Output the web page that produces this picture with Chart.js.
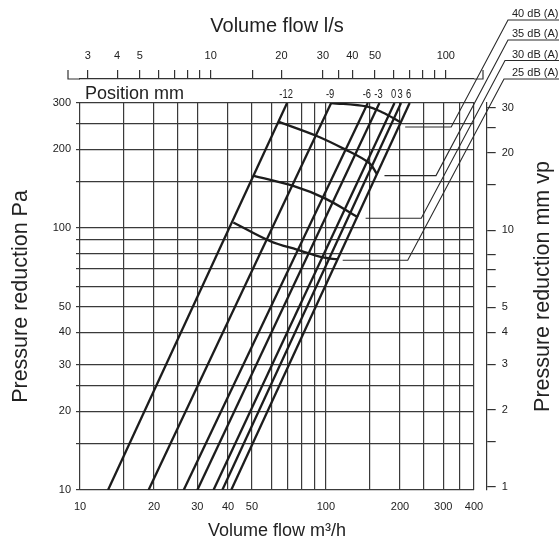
<!DOCTYPE html>
<html><head><meta charset="utf-8">
<script src="https://cdn.jsdelivr.net/npm/chart.js@4.4.0/dist/chart.umd.min.js"></script>
<style>html,body{margin:0;padding:0;background:#fff;}#wrap{width:559px;height:546px;}</style>
</head><body><div id="wrap"><canvas id="c" width="559" height="546"></canvas></div>
<script>
// ---- data ----
const positions = ['-12', '-9', '-6', '-3', '0', '3', '6'];
const flowAt10Pa = [13.0, 19.0, 26.4, 30.0, 34.9, 37.9, 41.2];     // m3/h at 10 Pa
const flowAt300Pa = [69.5, 105, 148, 165, 190, 202, 219];          // m3/h at 300 Pa
const pressureEnds = [10, 300];

const soundLevels = ['40 dB (A)', '35 dB (A)', '30 dB (A)', '25 dB (A)'];
const arc40Flow = [105, 146, 170, 200];
const arc40Pa = [300, 291, 276, 254];
const arc35Flow = [64.5, 91.3, 119, 150, 161];
const arc35Pa = [254, 225, 200, 177, 161];
const arc30Flow = [51, 73.6, 98.6, 135];
const arc30Pa = [158, 144.7, 130, 110];
const arc25Flow = [42, 59.4, 76.2, 98.6, 111];
const arc25Pa = [105, 89, 82.7, 77, 76];

const leaderPa = [243, 158.5, 109, 75.3];
const leaderFlowStart = [210, 173, 145, 117];

const flowTicks = [10, 15, 20, 25, 30, 40, 50, 60, 70, 80, 90, 100, 150, 200, 250, 300, 350, 400];
const flowLabels = [10, 20, 30, 40, 50, 100, 200, 300, 400];
const paTicks = [10, 15, 20, 25, 30, 40, 50, 60, 70, 80, 90, 100, 150, 200, 250, 300];
const paLabels = [10, 20, 30, 40, 50, 100, 200, 300];
const lsTicks = [3, 4, 5, 6, 7, 8, 9, 10, 15, 20, 30, 35, 40, 50, 60, 70, 80, 90, 100];
const lsLabels = [3, 4, 5, 10, 20, 30, 40, 50, 100];
const mmTicks = [1, 1.5, 2, 3, 4, 5, 6, 7, 8, 10, 15, 20, 25, 30];
const mmLabels = [1, 2, 3, 4, 5, 10, 20, 30];

// ---- styles ----
const TXT = '#222';
const GRID = '#3a3a3a';
const INK = '#1c1c1c';
const NARROW = "'Liberation Sans Narrow', 'Liberation Sans', Arial, sans-serif";
const SANS = "'Liberation Sans', Arial, sans-serif";

const leaderAnchorX = [508, 508, 505, 504];
const leaderAnchorY = [20, 40, 60.5, 79];
const leaderSlope = 0.531;

const datasets = [];
positions.forEach((p, i) => {
  datasets.push({
    label: 'Position ' + p,
    data: [{x: flowAt10Pa[i], y: pressureEnds[0]}, {x: flowAt300Pa[i], y: pressureEnds[1]}],
    borderColor: INK, borderWidth: 2.3, pointRadius: 0, tension: 0
  });
});
[[arc40Flow, arc40Pa], [arc35Flow, arc35Pa], [arc30Flow, arc30Pa], [arc25Flow, arc25Pa]].forEach((a, k) => {
  datasets.push({
    label: soundLevels[k],
    data: a[0].map((f, j) => ({x: f, y: a[1][j]})),
    borderColor: INK, borderWidth: 2.3, pointRadius: 0, tension: 0.35
  });
});

const setTicks = list => s => { s.ticks = list.map(v => ({value: v})); };
const labelIf = list => v => list.includes(v) ? String(v) : '';

const extras = {
  id: 'extras',
  afterDraw(chart) {
    const ctx = chart.ctx;
    const ca = chart.chartArea;
    const xs = chart.scales.x, ys = chart.scales.y, x2 = chart.scales.x2;
    ctx.save();
    // top axis line extension with end ticks
    ctx.strokeStyle = '#333'; ctx.lineWidth = 1.2;
    const ty = x2.bottom;
    ctx.beginPath();
    ctx.moveTo(ca.left - 12, ty - 9); ctx.lineTo(ca.left - 12, ty); ctx.lineTo(ca.left, ty);
    ctx.moveTo(ca.right, ty); ctx.lineTo(ca.right + 9, ty); ctx.lineTo(ca.right + 9, ty - 9);
    ctx.stroke();
    // Position mm
    ctx.fillStyle = TXT;
    ctx.font = '18px ' + SANS;
    ctx.textAlign = 'left'; ctx.textBaseline = 'alphabetic';
    ctx.fillText('Position mm', ca.left + 5, ca.top - 4);
    // position labels (condensed)
    ctx.font = '12px ' + NARROW;
    ctx.textAlign = 'center';
    positions.forEach((p, i) => {
      const px = xs.getPixelForValue(flowAt300Pa[i]) - 1;
      ctx.save();
      ctx.translate(px, ca.top - 5);
      ctx.scale(0.78, 1);
      ctx.fillText(p, 0, 0);
      ctx.restore();
    });
    // leaders
    ctx.lineWidth = 1.1; ctx.strokeStyle = '#2a2a2a';
    ctx.font = '11px ' + SANS; ctx.textAlign = 'left';
    soundLevels.forEach((lab, k) => {
      const sx = xs.getPixelForValue(leaderFlowStart[k]);
      const sy = ys.getPixelForValue(leaderPa[k]);
      const ex = leaderAnchorX[k] - leaderSlope * (sy - leaderAnchorY[k]);
      ctx.beginPath();
      ctx.moveTo(sx, sy); ctx.lineTo(ex, sy);
      ctx.lineTo(leaderAnchorX[k], leaderAnchorY[k]);
      ctx.lineTo(chart.width, leaderAnchorY[k]);
      ctx.stroke();
      ctx.fillText(lab, 512, leaderAnchorY[k] - 3);
    });
    // right title (reads bottom to top)
    ctx.font = '21.5px ' + SANS;
    ctx.textAlign = 'center'; ctx.textBaseline = 'middle';
    ctx.translate(543, (ca.top + ca.bottom) / 2 - 10);
    ctx.rotate(-Math.PI / 2);
    ctx.fillText('Pressure reduction mm vp', 0, 0);
    ctx.restore();
  }
};

const tickFont = {family: SANS, size: 11};

new Chart(document.getElementById('c'), {
  type: 'line',
  data: {datasets},
  options: {
    responsive: false, animation: false, events: [],
    layout: {padding: 0},
    plugins: {legend: {display: false}, tooltip: {enabled: false}},
    scales: {
      x: {
        type: 'logarithmic', position: 'bottom', min: 10, max: 400,
        afterBuildTicks: setTicks(flowTicks), afterFit: s => { s.height = 56; },
        grid: {color: GRID, lineWidth: 1.2, drawTicks: false},
        border: {display: false},
        ticks: {autoSkip: false, maxRotation: 0, padding: 10, color: TXT, font: tickFont, callback: labelIf(flowLabels)},
        title: {display: true, text: 'Volume flow m³/h', color: TXT, font: {family: SANS, size: 18}, padding: {top: 0, bottom: 4}}
      },
      y: {
        type: 'logarithmic', position: 'left', min: 10, max: 300,
        afterBuildTicks: setTicks(paTicks), afterFit: s => { s.width = 80; },
        grid: {color: GRID, lineWidth: 1.2, tickLength: 4},
        border: {display: false},
        ticks: {autoSkip: false, padding: 5, color: TXT, font: tickFont, callback: labelIf(paLabels)},
        title: {display: true, text: 'Pressure reduction Pa', color: TXT, font: {family: SANS, size: 21.5}, padding: {top: 8.5, bottom: 0}}
      },
      xs: {
        type: 'linear', position: 'top', weight: 0, display: true,
        grid: {display: false}, border: {display: false}, ticks: {display: false},
        afterFit: s => { s.height = 24; }
      },
      x2: {
        type: 'logarithmic', position: 'top', weight: 1, min: 2.78, max: 131.8,
        afterBuildTicks: setTicks(lsTicks), afterFit: s => { s.height = 79; },
        grid: {drawOnChartArea: false, tickLength: 9, color: '#333', lineWidth: 1.2},
        border: {display: true, color: '#333', width: 1.2},
        ticks: {autoSkip: false, maxRotation: 0, padding: 7, color: TXT, font: tickFont, callback: labelIf(lsLabels)},
        title: {display: true, text: 'Volume flow l/s', color: TXT, font: {family: SANS, size: 20}, padding: {top: 14.5, bottom: 0}}
      },
      ys: {
        type: 'linear', position: 'right', weight: 0, display: true,
        grid: {display: false}, border: {display: false}, ticks: {display: false},
        afterFit: s => { s.width = 12.7; }
      },
      y2: {
        type: 'logarithmic', position: 'right', weight: 1, min: 0.971, max: 31.3,
        afterBuildTicks: setTicks(mmTicks), afterFit: s => { s.width = 72.3; },
        grid: {drawOnChartArea: false, tickLength: 9, color: '#333', lineWidth: 1.2},
        border: {display: true, color: '#333', width: 1.2},
        ticks: {autoSkip: false, padding: 6, color: TXT, font: tickFont, callback: labelIf(mmLabels)}
      }
    }
  },
  plugins: [extras]
});
</script>
</body></html>
